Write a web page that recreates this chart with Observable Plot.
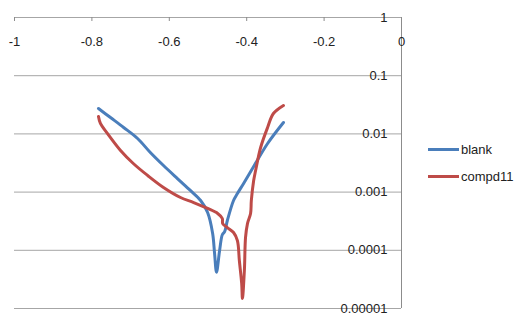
<!DOCTYPE html>
<html>
<head>
<meta charset="utf-8">
<script src="https://cdn.jsdelivr.net/npm/d3@7"></script>
<script src="https://cdn.jsdelivr.net/npm/@observablehq/plot@0.6"></script>
<style>
  body { margin: 0; background: #fff; }
  #wrap { position: relative; width: 530px; height: 326px; font-family: "Liberation Sans", Arial, sans-serif; }
  .leg { position: absolute; left: 428px; font-size: 13px; color: #222; display: flex; align-items: center; }
  .leg span.sw { display: inline-block; width: 31px; height: 3px; margin-right: 2px; }
</style>
</head>
<body>
<div id="wrap"></div>
<script>
// Potential (V) and current density (log scale)
const blankV = [-0.783, -0.752, -0.718, -0.682, -0.649, -0.615, -0.579, -0.545, -0.519, -0.501, -0.488, -0.483, -0.478, -0.470, -0.463, -0.457, -0.450, -0.434, -0.424, -0.408, -0.382, -0.346, -0.305];
const blankI = [0.0273, 0.0191, 0.0129, 0.00834, 0.00479, 0.00286, 0.00171, 0.00106, 0.000718, 0.000446, 0.000195, 0.0000881, 0.000042, 0.0000993, 0.000185, 0.000209, 0.000325, 0.000718, 0.000946, 0.00141, 0.00275, 0.00684, 0.0157];

const compdV = [-0.783, -0.778, -0.760, -0.726, -0.693, -0.656, -0.615, -0.571, -0.537, -0.501, -0.475, -0.463, -0.462, -0.450, -0.434, -0.424, -0.419, -0.413, -0.411, -0.406, -0.403, -0.398, -0.390, -0.388, -0.382, -0.377, -0.364, -0.346, -0.331, -0.305];
const compdI = [0.0199, 0.0151, 0.0102, 0.00519, 0.00310, 0.00193, 0.00120, 0.000807, 0.000662, 0.000523, 0.000429, 0.000352, 0.000288, 0.000246, 0.000202, 0.000147, 0.0000668, 0.0000269, 0.0000149, 0.0000450, 0.000166, 0.000288, 0.000429, 0.000718, 0.00158, 0.00235, 0.00584, 0.0129, 0.0224, 0.0308];

const seriesNames = ["blank", "compd11"];
const seriesColors = ["#4A7EBB", "#BE4B48"];

const xTicks = [-1, -0.8, -0.6, -0.4, -0.2, 0];
const xTickLabels = ["-1", "-0.8", "-0.6", "-0.4", "-0.2", "0"];
const yTicks = [1, 0.1, 0.01, 0.001, 0.0001, 0.00001];
const yTickLabels = ["1", "0.1", "0.01", "0.001", "0.0001", "0.00001"];

const blank = blankV.map((v, i) => ({v, i: blankI[i]}));
const compd = compdV.map((v, i) => ({v, i: compdI[i]}));

const chart = Plot.plot({
  width: 530,
  height: 326,
  marginLeft: 14,
  marginRight: 129,
  marginTop: 17,
  marginBottom: 18,
  style: {fontFamily: "'Liberation Sans', Arial, sans-serif", fontSize: "13px", color: "#222", background: "#fff"},
  x: {domain: [-1, 0], axis: null},
  y: {type: "log", domain: [0.00001, 1], axis: null},
  marks: [
    Plot.ruleY(yTicks, {stroke: "#a6a6a6", strokeWidth: 1}),
    Plot.ruleX([0], {stroke: "#8c8c8c", strokeWidth: 1}),
    Plot.ruleX(xTicks, {x: d => d, y1: 1, y2: 1, insetBottom: -4, stroke: "#8c8c8c"}),
    Plot.text(xTicks, {x: d => d, frameAnchor: "top", dy: 19, text: (d, k) => xTickLabels[k], fill: "#222", fontSize: 13}),
    Plot.text(yTicks, {y: d => d, frameAnchor: "right", textAnchor: "end", dx: -14, text: (d, k) => yTickLabels[k], fill: "#222", fontSize: 13}),
    Plot.line(blank, {x: "v", y: "i", stroke: seriesColors[0], strokeWidth: 3, curve: "catmull-rom"}),
    Plot.line(compd, {x: "v", y: "i", stroke: seriesColors[1], strokeWidth: 3, curve: "catmull-rom"})
  ]
});

const wrap = document.getElementById("wrap");
wrap.appendChild(chart);
const legTops = [149, 176];
seriesNames.forEach((name, k) => {
  const d = document.createElement("div");
  d.className = "leg";
  d.style.top = (legTops[k] - 8) + "px";
  d.style.height = "16px";
  d.innerHTML = `<span class="sw" style="background:${seriesColors[k]}"></span><span>${name}</span>`;
  wrap.appendChild(d);
});
</script>
</body>
</html>
